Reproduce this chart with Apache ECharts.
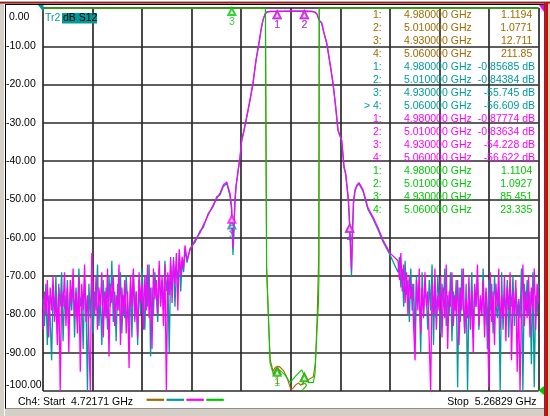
<!DOCTYPE html>
<html><head><meta charset="utf-8">
<script src="https://cdn.jsdelivr.net/npm/echarts@6/dist/echarts.min.js"></script>
<style>
html,body{margin:0;padding:0;background:#d4d0c8;width:550px;height:416px;overflow:hidden;position:relative;}
#panel{position:absolute;left:5px;top:4px;width:539px;height:403px;background:#fff;border-left:1px solid #000;border-top:1px solid #000;border-bottom:1px solid #909090;}
#c{position:absolute;left:0;top:0;width:550px;height:416px;}
.ln{position:absolute;}
</style>
</head><body>
<div class="ln" style="left:0;top:0;width:550px;height:1px;background:#fff"></div>
<div class="ln" style="left:0;top:1px;width:550px;height:1px;background:#b0b0b0"></div>
<div class="ln" style="left:0;top:2px;width:550px;height:1px;background:#e00000"></div>
<div class="ln" style="left:0;top:3px;width:550px;height:1px;background:#808080"></div>
<div class="ln" style="left:4px;top:4px;width:1px;height:412px;background:#fff"></div>
<div id="panel"></div>
<div class="ln" style="left:544px;top:2px;width:1px;height:414px;background:#e00000"></div>
<div class="ln" style="left:545px;top:2px;width:1px;height:414px;background:#505050"></div>
<div class="ln" style="left:546px;top:2px;width:1.5px;height:414px;background:#e00000"></div>
<div id="c"></div>
<script>
// ---------------- data ----------------
const START = 4.72171, STOP = 5.26829;           // GHz
const yMin = -100, yMax = 0, yStep = 10;          // dB scale
const markerFreqs = [4.98, 5.01, 4.93, 5.06];
const brownMarkerVals   = [1.1194, 1.0771, 12.711, 211.85];
const tealMarkerVals    = [-0.85685, -0.84384, -55.745, -56.609];
const magentaMarkerVals = [-0.87774, -0.83634, -54.228, -56.622];
const greenMarkerVals   = [1.1104, 1.0927, 85.451, 23.335];
// where the SWR markers sit on the displayed grid
const brownMarkerDisplay = [-93.8, -95.5];
const greenMarkerDisplay = [-94.2, -95.6, 0];

// noise floor sweeps (evenly spaced sweep points)
const leftNoiseStart = 4.72171, leftNoiseEnd = 4.87835;
const rightNoiseStart = 5.11331, rightNoiseEnd = 5.26829;

const magentaLeftNoise = [
-84,-74,-80,-71,-86,-73,-79,-70,-82,-75,
-88,-72,-100,-74,-78,-69,-83,-73,-90,-71,
-77,-68,-81,-74,-85,-70,-95,-72,-79,-67,
-82,-75,-87,-100,-64,-76,-80,-70,-84,-73,
-78,-69,-86,-74,-81,-68,-91,-72,-77,-70,
-83,-75,-79,-67,-88,-73,-80,-71,-85,-74,
-94,-70,-78,-68,-82,-74,-86,-69,-77,-72,
-84,-70,-79,-67,-81,-73,-89,-68,-76,-71,
-80,-66,-78,-70,-83,-67,-100,-69,-75,-65,
-77,-66,-72,-64,-79,-63,-70,-65,-68,-62];
const tealLeftNoise = [
-76,-83,-72,-88,-75,-81,-92,-74,-79,-70,
-85,-73,-78,-69,-87,-75,-80,-71,-84,-74,
-79,-70,-86,-73,-82,-68,-78,-75,-89,-71,
-77,-100,-72,-81,-69,-85,-74,-79,-67,-83,
-75,-88,-71,-80,-73,-84,-70,-78,-66,-82,
-74,-87,-72,-79,-69,-85,-75,-81,-70,-77,
-83,-72,-86,-69,-79,-74,-88,-71,-80,-68,
-76,-84,-70,-78,-67,-91,-73,-80,-69,-75,
-82,-68,-77,-71,-79,-66,-74,-70,-90,-67,
-73,-65,-78,-68,-71,-64,-74,-66,-69,-63];
const magentaRightNoise = [
-66,-71,-64,-74,-67,-77,-69,-80,-70,-76,
-72,-83,-92,-71,-79,-68,-85,-73,-81,-69,
-78,-74,-87,-100,-72,-80,-68,-84,-75,-79,
-70,-86,-73,-81,-67,-89,-74,-78,-69,-83,
-75,-80,-71,-88,-73,-79,-68,-85,-76,-81,
-70,-84,-74,-90,-72,-78,-67,-83,-75,-80,
-71,-86,-73,-79,-99,-69,-82,-74,-88,-72,
-78,-68,-84,-75,-81,-70,-87,-73,-79,-69,
-92,-74,-80,-71,-95,-76,-100,-78,-67,-83,
-74,-81,-70,-86,-73,-79,-68,-84,-72,-77];
const tealRightNoise = [
-69,-65,-73,-68,-78,-66,-75,-71,-82,-68,
-79,-72,-86,-70,-77,-74,-90,-69,-80,-73,
-76,-84,-71,-79,-67,-88,-73,-81,-70,-77,
-85,-72,-78,-68,-83,-75,-80,-69,-87,-74,
-79,-71,-99,-73,-82,-68,-77,-85,-72,-100,
-75,-81,-69,-86,-73,-78,-70,-84,-76,-80,
-68,-83,-74,-89,-71,-79,-72,-85,-70,-77,
-81,-73,-100,-69,-84,-75,-79,-71,-86,-74,
-78,-70,-83,-73,-80,-76,-81,-68,-100,-72,
-79,-71,-80,-74,-93,-69,-99,-75,-80,-72];

// filter skirts + passband  [GHz, dB]
const magentaBand = [
[4.88056,-65.8],[4.88386,-63.2],[4.88938,-60.6],[4.89490,-58.7],[4.89854,-56.7],
[4.90405,-54.0],[4.90957,-51.4],[4.91332,-49.7],[4.91696,-48.4],[4.92060,-46.2],
[4.92435,-45.4],[4.92799,-48.5],[4.92986,-52.0],[4.93000,-54.2],[4.93130,-62.7],
[4.93240,-56.0],[4.93350,-50.1],[4.93461,-46.5],[4.93714,-42.0],[4.93902,-39.0],
[4.94089,-34.5],[4.94343,-31.9],[4.94674,-28.0],[4.95005,-24.0],[4.95336,-19.6],
[4.95667,-13.6],[4.95998,-9.1],[4.96218,-5.7],[4.96439,-3.1],[4.96660,-1.6],
[4.96880,-1.05],[4.97211,-0.92],[4.98000,-0.878],[4.99417,-0.85],[5.01000,-0.836],
[5.01844,-0.90],[5.02175,-1.1],[5.02396,-1.6],[5.02616,-3.1],[5.02914,-3.9],
[5.03168,-6.5],[5.03466,-9.1],[5.03830,-14.4],[5.04161,-19.6],[5.04436,-25.3],
[5.04712,-31.9],[5.05120,-34.5],[5.05374,-41.4],[5.05562,-43.2],[5.05672,-45.8],
[5.05848,-49.7],[5.06000,-56.6],[5.06201,-68.4],[5.06312,-58.0],[5.06422,-50.5],
[5.06587,-47.5],[5.06808,-46.2],[5.07029,-45.6],[5.07249,-46.0],[5.07470,-47.5],
[5.07690,-49.3],[5.08021,-52.2],[5.08573,-54.6],[5.09125,-57.4],[5.09676,-60.6],
[5.10448,-64.0]];
const tealBand = [
[4.88056,-66.5],[4.88386,-62.8],[4.88938,-61.2],[4.89490,-58.2],[4.89854,-57.3],
[4.90405,-53.6],[4.90957,-51.8],[4.91332,-49.3],[4.91696,-48.8],[4.92060,-46.6],
[4.92435,-45.8],[4.92799,-49.0],[4.92986,-53.0],[4.93000,-55.7],[4.93130,-64.5],
[4.93240,-57.0],[4.93350,-50.5],[4.93461,-46.8],[4.93714,-42.3],[4.93902,-39.2],
[4.94089,-34.7],[4.94343,-32.1],[4.94674,-28.2],[4.95005,-24.1],[4.95336,-19.7],
[4.95667,-13.7],[4.95998,-9.2],[4.96218,-5.8],[4.96439,-3.1],[4.96660,-1.6],
[4.96880,-1.03],[4.97211,-0.90],[4.98000,-0.857],[4.99417,-0.85],[5.01000,-0.844],
[5.01844,-0.91],[5.02175,-1.1],[5.02396,-1.6],[5.02616,-3.1],[5.02914,-4.0],
[5.03168,-6.6],[5.03466,-9.2],[5.03830,-14.5],[5.04161,-19.7],[5.04436,-25.4],
[5.04712,-32.0],[5.05120,-34.7],[5.05374,-41.6],[5.05562,-43.5],[5.05672,-46.0],
[5.05848,-50.0],[5.06000,-56.6],[5.06201,-70.0],[5.06312,-59.0],[5.06422,-51.0],
[5.06587,-47.8],[5.06808,-46.5],[5.07029,-45.9],[5.07249,-46.3],[5.07470,-47.8],
[5.07690,-49.8],[5.08021,-52.6],[5.08573,-55.0],[5.09125,-57.9],[5.09676,-61.0],
[5.10448,-64.5]];
// SWR traces in displayed grid units (clipped at the top outside the band)
const greenTrace = [
[4.72171,0],[4.96715,0],[4.96770,-32],[4.96847,-68],[4.97100,-84],[4.97211,-92.7],
[4.97399,-93.0],[4.97575,-95.5],[4.97950,-94.2],[4.98314,-94.6],[4.98866,-95.8],
[4.99417,-97.8],[5.00079,-96.0],[5.00708,-94.5],[5.01072,-96.3],[5.01436,-97.8],
[5.01988,-97.8],[5.02175,-95.5],[5.02285,-89.8],[5.02396,-84],[5.02539,-78],
[5.02616,-70],[5.02650,0],[5.26829,0]];
const brownTrace = [
[4.72171,0],[4.96700,0],[4.96760,-32],[4.96830,-68],[4.97080,-84],[4.97250,-92],
[4.97540,-94.8],[4.97804,-93.8],[4.98240,-93.6],[4.98680,-94.6],[4.99056,-96.3],
[4.99527,-99.7],[4.99785,-99.2],[5.00050,-98.4],[5.00340,-97.9],[5.00600,-98.5],
[5.01000,-97.5],[5.01400,-97.1],[5.01620,-97.1],[5.01988,-96.3],[5.02200,-93],
[5.02300,-88],[5.02420,-80],[5.02580,-65],[5.02640,0],[5.26829,0]];

// ---------------- build ----------------
const BROWN = '#a06a00', TEAL = '#009a9a', MAGENTA = '#ff00ff', GREEN = '#00c800';
const FONT_FAMILY = '"Liberation Sans", Arial, Helvetica, sans-serif';
const FS = 10.5;
const FONT = FS + 'px ' + FONT_FAMILY;

function sweep(start, end, vals) {
  const n = vals.length;
  return vals.map((v, i) => [start + i * (end - start) / (n - 1), v]);
}
const magentaData = sweep(leftNoiseStart, leftNoiseEnd, magentaLeftNoise)
  .concat(magentaBand, sweep(rightNoiseStart, rightNoiseEnd, magentaRightNoise));
const tealData = sweep(leftNoiseStart, leftNoiseEnd, tealLeftNoise)
  .concat(tealBand, sweep(rightNoiseStart, rightNoiseEnd, tealRightNoise));

function lineSeries(name, data, color, width, extra) {
  return Object.assign({
    name, type: 'line', data, xAxisIndex: 0, yAxisIndex: 0,
    showSymbol: false, symbol: 'none', animation: false,
    lineStyle: { color, width }, itemStyle: { color }, z: 2
  }, extra || {});
}
function markerSeries(color, pts) {
  return {
    type: 'scatter', xAxisIndex: 0, yAxisIndex: 0, animation: false, z: 5,
    symbol: 'emptyTriangle', symbolSize: [7, 7], symbolOffset: [0, 3.5],
    itemStyle: { color, borderColor: color, borderWidth: 1 },
    label: { show: true, position: 'inside', offset: [0, 10.5], color,
      fontSize: FS, fontFamily: FONT_FAMILY, formatter: p => p.value[2] },
    data: pts, clip: false
  };
}
const tealMk = markerFreqs.map((f, i) => [f, tealMarkerVals[i], String(i + 1)]);
const magMk = markerFreqs.map((f, i) => [f, magentaMarkerVals[i], String(i + 1)]);
const brownMk = brownMarkerDisplay.map((v, i) => [markerFreqs[i], v, String(i + 1)]);
const greenMk = greenMarkerDisplay.map((v, i) => [markerFreqs[i], v, String(i + 1)]);

// graphics: marker table, title, footer
const graphics = [];
function txt(x, y, text, fill, align) {
  graphics.push({ type: 'text', z: 100, style: { x, y, text, fill, font: FONT,
    textAlign: align || 'left', textVerticalAlign: 'middle' } });
}
const tableRows = [
  { color: BROWN, vals: brownMarkerVals, unit: '' },
  { color: TEAL, vals: tealMarkerVals, unit: ' dB' },
  { color: MAGENTA, vals: magentaMarkerVals, unit: ' dB' },
  { color: GREEN, vals: greenMarkerVals, unit: '' }
];
const activeTrace = 1, activeMarker = 3;
let r = 0;
tableRows.forEach((tr, t) => {
  markerFreqs.forEach((f, m) => {
    const y = 15.5 + r * 12.95;
    const lab = (t === activeTrace && m === activeMarker ? '> ' : '') + (m + 1) + ':';
    txt(381.7, y, lab, tr.color, 'right');
    txt(404, y, f.toFixed(6) + ' GHz', tr.color, 'left');
    txt(tr.unit ? 535 : 532.3, y, tr.vals[m].toPrecision(5) + tr.unit, tr.color, 'right');
    r++;
  });
});
// title
txt(45, 18, 'Tr2', TEAL, 'left');
graphics.push({ type: 'rect', z: 99, shape: { x: 62, y: 13, width: 35, height: 10.5 }, style: { fill: TEAL } });
txt(63, 18.3, 'dB S12', '#000', 'left');
// footer
txt(18, 401.7, 'Ch4: Start  ' + START.toFixed(5) + ' GHz', '#000', 'left');
txt(536.5, 401.7, 'Stop  ' + STOP.toFixed(5) + ' GHz', '#000', 'right');
[BROWN, TEAL, MAGENTA, GREEN].forEach((c, i) => {
  graphics.push({ type: 'rect', z: 99, shape: { x: 146.6 + i * 19.9, y: 398.7, width: 17.5, height: 2.2 }, style: { fill: c } });
});
// reference/edge flags
graphics.push({ type: 'polygon', z: 99, shape: { points: [[38, 5], [43.5, 5], [43.5, 12]] }, style: { fill: TEAL } });
graphics.push({ type: 'polygon', z: 99, shape: { points: [[539, 5], [544, 5], [544, 12]] }, style: { fill: MAGENTA } });
graphics.push({ type: 'polygon', z: 99, shape: { points: [[538.5, 390.5], [544, 386], [544, 395]] }, style: { fill: GREEN } });

const GRIDC = '#2a2a2a';
const option = {
  backgroundColor: 'transparent',
  animation: false,
  grid: { left: 43, right: 11.5, top: 8, bottom: 25, containLabel: false, outerBoundsMode: 'none' },
  xAxis: [
    { type: 'value', min: START, max: STOP, show: true,
      axisLine: { show: false }, axisTick: { show: false }, axisLabel: { show: false }, splitLine: { show: false } },
    { type: 'value', min: 0, max: 10, interval: 1, position: 'bottom',
      axisLine: { show: false }, axisTick: { show: false }, axisLabel: { show: false },
      splitLine: { show: true, lineStyle: { color: GRIDC, width: 1.7 } } }
  ],
  yAxis: [{
    type: 'value', min: yMin, max: yMax, interval: yStep,
    axisLine: { show: false }, axisTick: { show: false },
    splitLine: { show: true, lineStyle: { color: GRIDC, width: 1.7 } },
    axisLabel: {
      show: true, align: 'left', margin: 37, color: '#000', fontSize: FS, fontFamily: FONT_FAMILY,
      verticalAlignMinLabel: 'bottom', verticalAlignMaxLabel: 'top',
      formatter: v => v === 0 ? '{top| 0.00}' : v.toFixed(2),
      rich: { top: { fontSize: FS, fontFamily: FONT_FAMILY, color: '#000', padding: [4, 0, 0, 0] } }
    }
  }],
  graphic: { elements: graphics },
  series: [
    lineSeries('S11', brownTrace, BROWN, 1.1),
    lineSeries('S12', tealData, TEAL, 1.3),
    lineSeries('S21', magentaData, MAGENTA, 1.3),
    lineSeries('S22', greenTrace, GREEN, 1.1, { clip: false }),
    markerSeries(BROWN, brownMk),
    markerSeries(GREEN, greenMk),
    markerSeries(TEAL, tealMk),
    markerSeries(MAGENTA, magMk)
  ]
};
const chart = echarts.init(document.getElementById('c'), null, { renderer: 'canvas' });
chart.setOption(option);
</script>
</body></html>
